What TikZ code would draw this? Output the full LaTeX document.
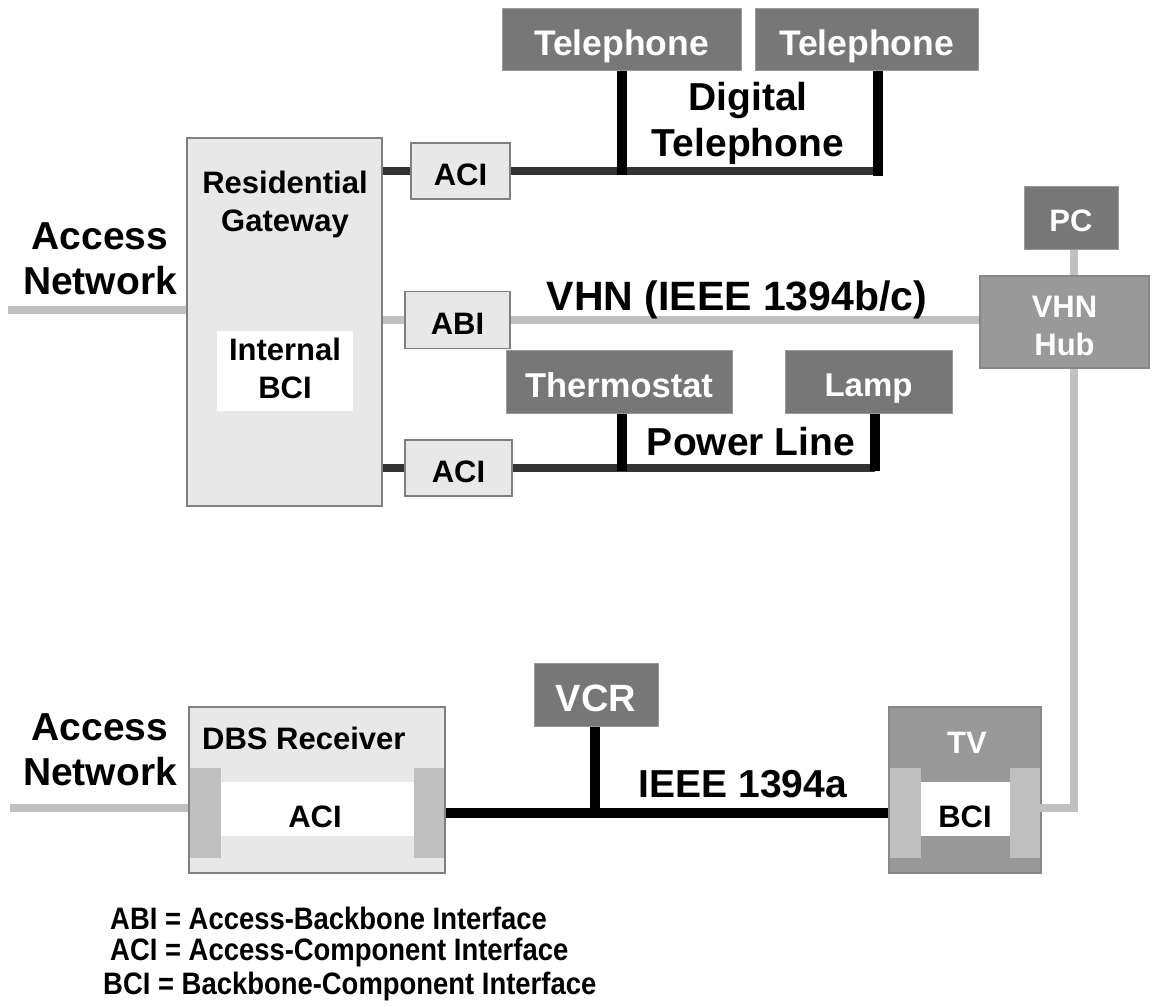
\documentclass[tikz,border=0pt]{standalone}
\usepackage{fontspec}
\usepackage{graphicx}
\setmainfont{Liberation Sans}
\usetikzlibrary{calc}

\definecolor{boxfill}{HTML}{E8E8E8}
\definecolor{boxline}{HTML}{808080}
\definecolor{devfill}{HTML}{777777}
\definecolor{devedge}{HTML}{9A9A9A}
\definecolor{hubfill}{HTML}{999999}
\definecolor{hubedge}{HTML}{888888}
\definecolor{portfill}{HTML}{C0C0C0}
\definecolor{lightwire}{HTML}{C0C0C0}
\definecolor{darkwire}{HTML}{333333}

\newcommand{\fsz}[1]{\bfseries\fontsize{#1}{#1}\selectfont}
\newcommand{\narrowtxt}[1]{\scalebox{0.885}[1]{#1}}

\tikzset{
  sz/.style 2 args={minimum width=#1pt, minimum height=#2pt},
  capfix/.style={text height=#1, text depth=0pt},
  lbl/.style={font=\bfseries\fontsize{31}{38}\selectfont, align=center, inner sep=0pt},
  netlbl/.style={font=\bfseries\fontsize{39}{45}\selectfont, align=center, inner sep=0pt},
  buslbl/.style={font=\bfseries\fontsize{39}{46}\selectfont, align=center, inner sep=0pt},
  legendlbl/.style={font=\bfseries\fontsize{31}{37}\selectfont, anchor=west, inner sep=0pt},
  ifacebox/.style={draw=boxline, fill=boxfill, line width=1.5pt, lbl},
  devbox/.style={draw=devedge, fill=devfill, line width=1pt, text=white, lbl},
  hubbox/.style={draw=hubedge, fill=hubfill, line width=1.5pt, text=white, lbl},
  portblk/.style={fill=portfill, inner sep=0pt},
  whitepad/.style={fill=white, inner sep=0pt},
  lightbus/.style={draw=lightwire, line width=8pt},
  darkbus/.style={draw=darkwire, line width=8pt},
  blackbus/.style={draw=black, line width=10pt},
}

\begin{document}
\begin{tikzpicture}[x=1pt,y=-1pt]
\useasboundingbox (0,0) rectangle (1153,1006);

% ---- residential gateway ----
\node[ifacebox, sz={195}{368}] (rg) at (284.5,322) {};
\node[lbl] (rgname) at (285,204) {Residential\\Gateway};
\node[whitepad, sz={136}{80}] (ibci) at (285,371) {};
\node[lbl] (ibcitxt) at (285,368) {Internal\\BCI};

% ---- gateway interfaces ----
\node[ifacebox, capfix=28pt, sz={99}{56}] (aci1) at (460.5,171) {ACI};
\node[ifacebox, capfix=28pt, sz={105}{57}] (abi) at (457.5,320) {ABI};
\node[ifacebox, capfix=28pt, sz={107}{56}] (aci2) at (458.5,468) {ACI};

\draw[darkbus] (aci1.west -| rg.east) -- (aci1.west);
\draw[lightbus] (abi.west -| rg.east) -- (abi.west);
\draw[darkbus] (aci2.west -| rg.east) -- (aci2.west);

% ---- access network feeding the gateway ----
\node[netlbl] (an1lbl) at (100,259) {Access\\Network};
\coordinate (an1) at (8,310);
\draw[lightbus] (an1) -- (an1 -| rg.west);

% ---- digital telephone bus ----
\node[devbox, font=\fsz{35.5}, capfix=32pt, sz={239}{62}] (tel1) at (621.5,40) {Telephone};
\node[devbox, font=\fsz{35.5}, capfix=32pt, sz={223}{62}] (tel2) at (866.5,40) {Telephone};
\coordinate (tj1) at (622,175);
\coordinate (tj2) at (878,176);
\draw[darkbus] (aci1.east) -- (aci1.east -| tj2);
\draw[blackbus] (tj1 |- tel1.south) -- (tj1);
\draw[blackbus] (tj2 |- tel2.south) -- (tj2);
\node[buslbl] (dtlbl) at (748,123) {Digital\\Telephone};

% ---- power line bus ----
\node[devbox, font=\fsz{34.5}, capfix=31pt, sz={226}{63}] (thermo) at (619,381.5) {Thermostat};
\node[devbox, font=\fsz{33}, capfix=30pt, sz={167}{63}] (lamp) at (868.5,381.5) {Lamp};
\coordinate (pj1) at (622,471);
\coordinate (pj2) at (875,471);
\draw[darkbus] (aci2.east) -- (aci2.east -| pj2);
\draw[blackbus] (pj1 |- thermo.south) -- (pj1);
\draw[blackbus] (pj2 |- lamp.south) -- (pj2);
\node[buslbl] (pllbl) at (751,442) {Power Line};

% ---- DBS receiver ----
\node[ifacebox, sz={256}{166}] (dbs) at (317,790) {};
\node[portblk, sz={31}{90}] (dbspl) at (205.5,813) {};
\node[portblk, sz={30}{90}] (dbspr) at (429,813) {};
\node[whitepad, sz={193}{54}] (dbsw) at (317.5,809) {};
\node[lbl, anchor=west] (dbsname) at (202,738) {DBS Receiver};
\node[lbl, capfix=28pt] (dbsaci) at (315,813) {ACI};

\node[netlbl] (an2lbl) at (100,750) {Access\\Network};
\coordinate (an2) at (10,808);
\draw[lightbus] (an2) -- (an2 -| dbs.west);

% ---- TV ----
\node[hubbox, sz={152}{166}] (tv) at (965,790) {};
\node[portblk, sz={31}{90}] (tvpl) at (905.5,813) {};
\node[portblk, sz={30}{90}] (tvpr) at (1025,813) {};
\node[whitepad, sz={89}{54}] (tvw) at (965.5,809) {};
\node[lbl, capfix=28pt, text=white] (tvname) at (967,739) {TV};
\node[lbl, capfix=28pt] (tvbci) at (965,813) {BCI};

% ---- VHN backbone ----
\node[hubbox, sz={169}{92}] (hub) at (1064.5,322) {};
\node[lbl, text=white] (hubtxt) at (1064.5,326) {VHN\\Hub};
\node[devbox, font=\fsz{31}, capfix=28pt, sz={94}{63}] (pc) at (1071,217.5) {PC};
\draw[lightbus] (abi.east) -- (abi.east -| hub.west);
\node[buslbl, font=\fsz{41}] (vhnlbl) at (737,300) {VHN (IEEE 1394b/c)};
\coordinate (vx) at (1074,808);
\draw[lightbus] (vx |- pc.south) -- (vx |- hub.north);
\draw[lightbus] (vx |- hub.south) -- (vx) -- (tvpr.east |- vx);

% ---- IEEE 1394a bus ----
\node[devbox, font=\fsz{38}, capfix=34pt, sz={124}{63}] (vcr) at (596,694.5) {VCR};
\coordinate (vj) at (595,813);
\draw[blackbus] (dbs.east |- vj) -- (tv.west |- vj);
\draw[blackbus] (vj |- vcr.south) -- (vj);
\node[buslbl] (ieeelbl) at (743,784) {IEEE 1394a};

% ---- legend ----
\node[legendlbl] (leg1) at (110,918) {\narrowtxt{ABI = Access-Backbone Interface}};
\node[legendlbl] (leg2) at (110,952) {\narrowtxt{ACI = Access-Component Interface}};
\node[legendlbl] (leg3) at (103,986) {\narrowtxt{BCI = Backbone-Component Interface}};
\end{tikzpicture}
\end{document}
